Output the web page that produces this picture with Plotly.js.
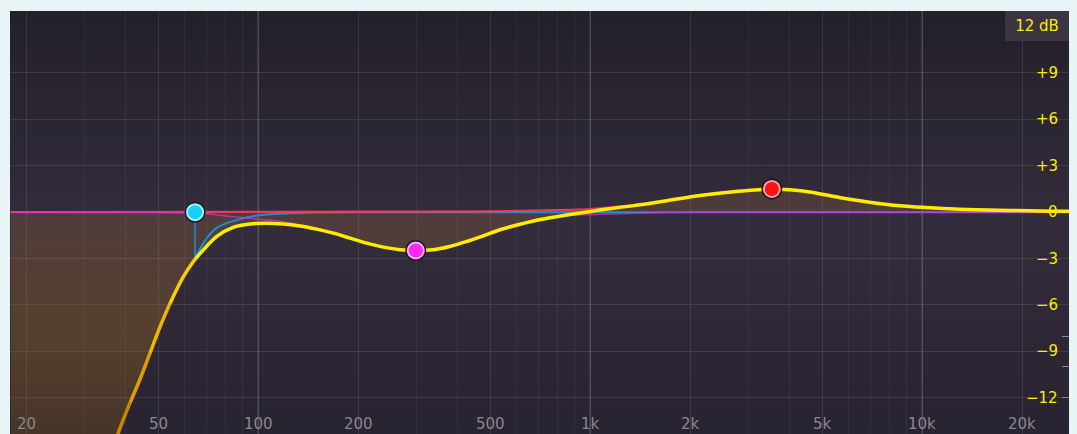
<!DOCTYPE html>
<html>
<head>
<meta charset="utf-8">
<script src="https://cdn.plot.ly/plotly-3.0.1.min.js"></script>
<style>
  html, body { margin:0; padding:0; background:#e9f4f6; width:1077px; height:434px; overflow:hidden; }
  #panel { position:absolute; left:10px; top:11px; width:1059px; height:423px;
    background: linear-gradient(to bottom, #24202a 0%, #2c2734 30%, #332c3c 50%, #2e2836 75%, #282330 100%); }
  #chart { position:absolute; left:0; top:0; width:1077px; height:434px; }
</style>
</head>
<body>
<div id="panel"></div>
<div id="chart"></div>
<script>
// ---- axis ticks ----
const freqTicks = [20, 50, 100, 200, 500, 1000, 2000, 5000, 10000, 20000];
const freqTickLabels = ['20', '50', '100', '200', '500', '1k', '2k', '5k', '10k', '20k'];
const minorFreqs = [30, 40, 60, 70, 80, 90, 300, 400, 600, 700, 800, 900, 3000, 4000, 6000, 7000, 8000, 9000];
const decadeFreqs = [100, 1000, 10000];
const gainTicks = [9, 6, 3, 0, -3, -6, -9, -12];
const gainTickLabels = ['+9', '+6', '+3', '0', '\u22123', '\u22126', '\u22129', '\u221212'];
const analyzerTicks = [-8.07, -10.0, -12.0];
const rangeLabel = '12 dB';

// ---- total EQ curve (yellow) ----
const yellowFreq = [18, 25, 30, 37.9, 41.2, 44.1, 47.3, 50.7, 54.3, 59.6, 64.6, 69.7, 75.3, 84.1, 94.6, 106.2, 119.2, 133.8, 150.3, 168.6, 189.3, 212.4, 238.5, 267.6, 298.5, 336.6, 378, 424.6, 476.5, 535, 602, 675.6, 758, 851, 992, 1068, 1352, 1703, 2146, 2708, 3124, 3528, 4000, 4590, 5800, 7300, 9200, 11600, 14600, 18500, 24900, 28000];
const yellowGain = [-33.5, -25.8, -21, -14.3, -12.3, -10.8, -9.1, -7.4, -5.9, -4.17, -3.05, -2.25, -1.55, -0.98, -0.76, -0.72, -0.76, -0.89, -1.10, -1.36, -1.68, -2.0, -2.26, -2.43, -2.48, -2.43, -2.22, -1.90, -1.53, -1.14, -0.83, -0.57, -0.36, -0.18, 0.03, 0.14, 0.42, 0.74, 1.07, 1.32, 1.43, 1.5, 1.44, 1.3, 0.9, 0.58, 0.36, 0.24, 0.16, 0.11, 0.06, 0.05];

// ---- band 1: high-pass (blue) ----
const blueFreq = [18, 25, 30, 37.9, 41.2, 44.1, 47.3, 50.7, 54.3, 59.6, 64.6, 69.7, 75.3, 86.5, 94.6, 106, 119, 150, 190, 28000];
const blueGain = [-33.5, -25.8, -21, -14.3, -12.3, -10.8, -9.05, -7.35, -5.85, -4.1, -2.95, -1.75, -1.0, -0.5, -0.29, -0.16, -0.1, -0.03, 0, 0];

// ---- band 2: bell cut (magenta) ----
const magentaFreq = [18, 40, 64.6, 69, 84, 94.6, 106, 119, 134, 150, 169, 189, 212, 238, 268, 298.5, 337, 378, 425, 476, 535, 602, 676, 758, 851, 1068, 1352, 1703, 2146, 28000];
const magentaGain = [0, -0.02, -0.05, -0.09, -0.3, -0.4, -0.5, -0.62, -0.86, -1.08, -1.35, -1.67, -2.0, -2.26, -2.43, -2.48, -2.43, -2.23, -1.93, -1.58, -1.2, -0.92, -0.55, -0.34, -0.22, -0.14, -0.07, -0.03, -0.01, 0];

// ---- band 3: bell boost (red) ----
const redFreq = [18, 100, 300, 500, 676, 851, 1000, 1068, 1352, 1530, 1790, 2146, 2708, 3124, 3528, 4000, 4590, 5800, 7300, 9200, 11600, 14600, 18500, 24900, 28000];
const redGain = [0, 0.02, 0.03, 0.05, 0.1, 0.14, 0.19, 0.25, 0.45, 0.57, 0.82, 1.08, 1.33, 1.44, 1.51, 1.44, 1.3, 0.9, 0.58, 0.36, 0.24, 0.16, 0.11, 0.06, 0.05];

// ---- band nodes ----
const nodeFreq = [64.6, 298.5, 3528];
const nodeGain = [0, -2.48, 1.5];
const nodeStemBottom = -3.0;

// ---- styles ----
const nodeFill = ['#14d2f5', '#ff28f0', '#ff1212'];
const nodeRing = ['#a0f4ff', '#ffb0ff', '#ffa0a0'];
const yellowSegments = [
  {from: 0, to: 4, color: '#c98600'},
  {from: 4, to: 6, color: '#e29c00'},
  {from: 6, to: 8, color: '#f2b400'},
  {from: 8, to: 10, color: '#fccd00'},
  {from: 10, to: yellowFreq.length - 1, color: '#ffec00'}
];

const traces = [];

// bright decade grid lines
decadeFreqs.forEach(f => traces.push({
  x: [f, f], y: [-20, 20], mode: 'lines', hoverinfo: 'skip', showlegend: false,
  line: {color: 'rgba(255,255,255,0.19)', width: 1}
}));

// fill under total curve
traces.push({
  x: yellowFreq, y: yellowGain, mode: 'lines', fill: 'tozeroy', hoverinfo: 'skip', showlegend: false,
  line: {width: 0, shape: 'spline', smoothing: 1},
  fillcolor: 'rgba(165,110,25,0.27)',
  fillgradient: {type: 'vertical', start: -14.3, stop: 0,
    colorscale: [[0, 'rgba(150,100,20,0.27)'], [0.45, 'rgba(170,115,25,0.32)'], [1, 'rgba(165,110,60,0.24)']]}
});

// band curves
traces.push({x: blueFreq, y: blueGain, mode: 'lines', hoverinfo: 'skip', showlegend: false,
  line: {color: '#1a90d2', width: 2, shape: 'spline', smoothing: 1}});
traces.push({x: redFreq, y: redGain, mode: 'lines', hoverinfo: 'skip', showlegend: false,
  opacity: 0.9, line: {color: '#ff3a5a', width: 2.2, shape: 'spline', smoothing: 1}});
traces.push({x: magentaFreq, y: magentaGain, mode: 'lines', hoverinfo: 'skip', showlegend: false,
  opacity: 0.7, line: {color: '#e030e0', width: 1.5, shape: 'spline', smoothing: 1}});

// node stem for the high-pass band
traces.push({x: [nodeFreq[0], nodeFreq[0]], y: [nodeGain[0], nodeStemBottom], mode: 'lines',
  hoverinfo: 'skip', showlegend: false, line: {color: '#1a90d2', width: 1.5}});

// total curve, segmented for the orange-to-yellow gradient
yellowSegments.forEach(s => traces.push({
  x: yellowFreq.slice(s.from, s.to + 1), y: yellowGain.slice(s.from, s.to + 1),
  mode: 'lines', hoverinfo: 'skip', showlegend: false,
  line: {color: s.color, width: 3.5, shape: 'spline', smoothing: 1}
}));

// nodes
traces.push({x: nodeFreq, y: nodeGain, mode: 'markers', hoverinfo: 'skip', showlegend: false,
  marker: {size: 21, color: '#1a1720'}});
traces.push({x: nodeFreq, y: nodeGain, mode: 'markers', hoverinfo: 'skip', showlegend: false,
  marker: {size: 16, color: nodeFill, line: {color: nodeRing, width: 2}}});

// analyzer scale ticks on the right edge
traces.push({x: [null], y: [null], yaxis: 'y2', mode: 'lines', showlegend: false, hoverinfo: 'skip'});

const annotations = [];
freqTicks.forEach((f, i) => annotations.push({
  x: Math.log10(f), xref: 'x', y: 0, yref: 'paper', yanchor: 'bottom', xanchor: 'center',
  text: freqTickLabels[i], showarrow: false, yshift: -1,
  font: {family: 'DejaVu Sans', size: 15, color: '#8b8691'}
}));
gainTicks.forEach((g, i) => annotations.push({
  x: 0.9915, xref: 'paper', y: g, yref: 'y', xanchor: 'right', yanchor: 'middle',
  text: gainTickLabels[i], showarrow: false,
  font: {family: 'DejaVu Sans', size: 15, color: '#ffec00'}
}));
annotations.push({
  x: 1, xref: 'paper', y: 1, yref: 'paper', xanchor: 'right', yanchor: 'top',
  text: rangeLabel, showarrow: false, width: 52, height: 18, borderpad: 5, borderwidth: 1,
  bgcolor: '#3a3541', bordercolor: '#3a3541',
  font: {family: 'DejaVu Sans', size: 15, color: '#ffec00'}
});

const yRange = [-14.34, 13.0];
const layout = {
  width: 1077, height: 434,
  margin: {l: 10, r: 8, t: 11, b: 0, pad: 0},
  paper_bgcolor: 'rgba(0,0,0,0)', plot_bgcolor: 'rgba(0,0,0,0)',
  showlegend: false,
  xaxis: {
    type: 'log', range: [Math.log10(17.9), Math.log10(27700)],
    tickvals: freqTicks, showticklabels: false, ticks: '',
    showgrid: true, gridcolor: 'rgba(255,255,255,0.10)', gridwidth: 1,
    minor: {tickvals: minorFreqs, showgrid: true, gridcolor: 'rgba(255,255,255,0.06)', gridwidth: 1, ticks: ''},
    zeroline: false, showline: false, fixedrange: true
  },
  yaxis: {
    range: yRange, tickvals: gainTicks, showticklabels: false, ticks: '',
    showgrid: true, gridcolor: 'rgba(255,255,255,0.10)', gridwidth: 1,
    zeroline: false, showline: false, fixedrange: true
  },
  yaxis2: {
    range: yRange, overlaying: 'y', side: 'right', tickvals: analyzerTicks,
    ticks: 'inside', ticklen: 7, tickwidth: 1, tickcolor: '#8b8691',
    showticklabels: false, showgrid: false, zeroline: false, showline: false, fixedrange: true
  },
  annotations: annotations
};

Plotly.newPlot('chart', traces, layout, {staticPlot: true, displayModeBar: false});
</script>
</body>
</html>
